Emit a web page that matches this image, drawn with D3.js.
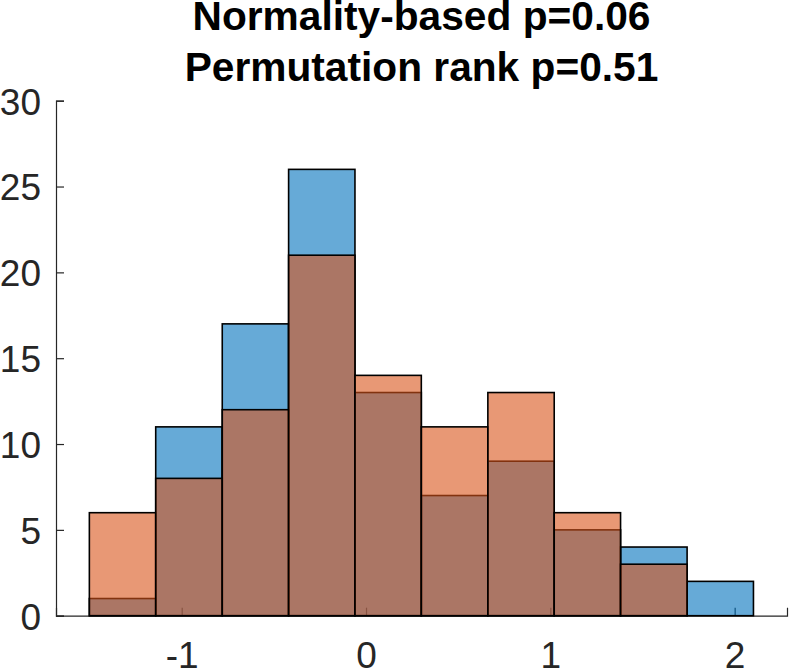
<!DOCTYPE html>
<html>
<head>
<meta charset="utf-8">
<script src="https://cdn.jsdelivr.net/npm/d3@7"></script>
<style>
  html, body { margin: 0; padding: 0; background: #fff; }
  svg { display: block; }
</style>
</head>
<body>
<svg id="chart" width="793" height="671"></svg>
<script>
// ---- data ----
const binEdges = [-1.501, -1.141, -0.780, -0.420, -0.060, 0.300, 0.661, 1.021, 1.381, 1.742, 2.102];
const countsBlue = [1, 11, 17, 26, 13, 7, 9, 5, 4, 2];
const countsOrange = [6, 8, 12, 21, 14, 11, 13, 6, 3, 0];
const xTicks = [-1, 0, 1, 2];
const yTicks = [0, 5, 10, 15, 20, 25, 30];
const xDomain = [-1.682, 2.284];
const yDomain = [0, 30];
const titleLines = ["Normality-based p=0.06", "Permutation rank p=0.51"];

// ---- layout ----
const plotLeft = 56, plotRight = 787, plotTop = 100.7, plotBottom = 615.7;
const axisColor = "#262626";
const font = "'Liberation Sans', Arial, Helvetica, sans-serif";

const svg = d3.select("#chart");
const x = d3.scaleLinear().domain(xDomain).range([plotLeft, plotRight]);
const y = d3.scaleLinear().domain(yDomain).range([plotBottom, plotTop]);

// axes (drawn beneath bars, like MATLAB layer bottom)
const yAxis = d3.axisLeft(y).tickValues(yTicks).tickSize(-8).tickPadding(15).tickFormat(d3.format("d"));
const xAxis = d3.axisBottom(x).tickValues(xTicks).tickSize(-8).tickPadding(26).tickFormat(d => d < 0 ? "-" + Math.abs(d) : String(d));

const gy = svg.append("g").attr("transform", `translate(${plotLeft},0)`).call(yAxis);
const gx = svg.append("g").attr("transform", `translate(0,${plotBottom})`).call(xAxis);

[gx, gy].forEach(g => {
  g.select(".domain").attr("stroke", axisColor).attr("stroke-width", 1.2);
  g.selectAll(".tick line").attr("stroke", axisColor).attr("stroke-width", 1.2);
  g.selectAll(".tick text")
    .attr("fill", axisColor)
    .style("font-family", font)
    .style("font-size", "37px");
});
gy.selectAll(".tick text").attr("dy", "0.36em");
gx.selectAll(".tick text").attr("dy", "0.71em");

// histogram bars
const bins = countsBlue.map((_, i) => ({ x0: binEdges[i], x1: binEdges[i + 1] }));

function drawSeries(counts, fill) {
  svg.append("g")
    .selectAll("rect")
    .data(counts.map((c, i) => ({ c, x0: bins[i].x0, x1: bins[i].x1 })))
    .join("rect")
    .attr("x", d => x(d.x0))
    .attr("width", d => x(d.x1) - x(d.x0))
    .attr("y", d => y(d.c))
    .attr("height", d => y(0) - y(d.c))
    .attr("fill", fill)
    .attr("fill-opacity", 0.6)
    .attr("stroke", "#000")
    .attr("stroke-width", 1.6);
}
drawSeries(countsBlue, "rgb(0,114,189)");
drawSeries(countsOrange, "rgb(217,83,25)");

// title
const cx = (plotLeft + plotRight) / 2;
svg.append("text")
  .attr("x", cx)
  .attr("y", 29.5)
  .attr("text-anchor", "middle")
  .style("font-family", font)
  .style("font-weight", "bold")
  .style("font-size", "40.7px")
  .attr("fill", "#000")
  .text(titleLines[0]);
svg.append("text")
  .attr("x", cx)
  .attr("y", 81)
  .attr("text-anchor", "middle")
  .style("font-family", font)
  .style("font-weight", "bold")
  .style("font-size", "40.7px")
  .attr("fill", "#000")
  .text(titleLines[1]);
</script>
</body>
</html>
